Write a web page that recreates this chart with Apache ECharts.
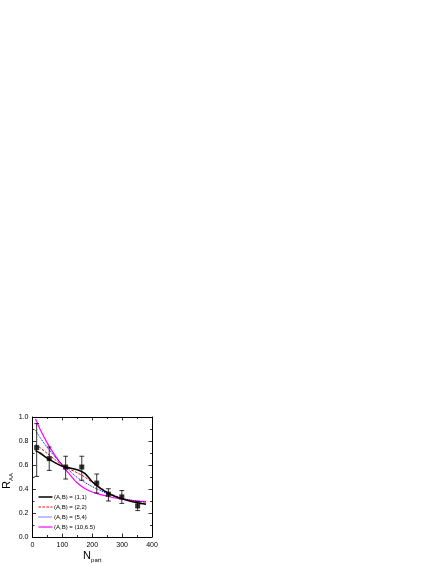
<!DOCTYPE html>
<html>
<head>
<meta charset="utf-8">
<script src="https://cdn.jsdelivr.net/npm/echarts@6/dist/echarts.min.js"></script>
<style>
html,body{margin:0;padding:0;background:#fff;}
#c{width:436px;height:564px;}
</style>
</head>
<body>
<div id="c"></div>
<script>
// Data points
var npart = [14, 56, 111, 165, 215, 254, 299, 352];
var raa = [0.745, 0.653, 0.583, 0.583, 0.449, 0.357, 0.334, 0.259];
var errUp = [0.20, 0.097, 0.09, 0.09, 0.076, 0.045, 0.053, 0.036];
var errDown = [0.24, 0.098, 0.10, 0.11, 0.083, 0.057, 0.054, 0.039];

// Model curves
var curveN = [10, 25, 50, 75, 100, 125, 150, 175, 200, 225, 250, 275, 300, 325, 350, 380];
var curve11 = [0.72, 0.70, 0.655, 0.62, 0.59, 0.575, 0.56, 0.53, 0.46, 0.41, 0.37, 0.34, 0.318, 0.30, 0.285, 0.272];
var curve22 = [0.77, 0.745, 0.695, 0.645, 0.60, 0.565, 0.535, 0.50, 0.455, 0.415, 0.375, 0.345, 0.322, 0.305, 0.293, 0.283];
var curve54 = [0.89, 0.83, 0.745, 0.67, 0.605, 0.55, 0.495, 0.455, 0.42, 0.39, 0.36, 0.34, 0.322, 0.31, 0.30, 0.292];
var curve1065 = [0.985, 0.90, 0.78, 0.68, 0.595, 0.52, 0.45, 0.405, 0.375, 0.355, 0.34, 0.325, 0.315, 0.305, 0.30, 0.298];

var names = ['(A,B) = (1,1)', '(A,B) = (2,2)', '(A,B) = (5,4)', '(A,B) = (10,6.5)'];
var xTicks = [0, 100, 200, 300, 400];
var yTicks = [0.0, 0.2, 0.4, 0.6, 0.8, 1.0];

function pairs(xs, ys){ return xs.map(function(x,i){ return [x, ys[i]]; }); }

var FONT = 'Liberation Sans, Arial, sans-serif';
var lineStyles = [
  {color:'#000000', width:1.5, type:'solid'},
  {color:'#ff0000', width:1, type:[2.5,1.5]},
  {color:'#0000ff', width:1, type:[1,1]},
  {color:'#ff00ff', width:1.2, type:'solid'}
];
var curves = [curve11, curve22, curve54, curve1065];

var chart = echarts.init(document.getElementById('c'), null, {renderer:'canvas'});

function xAx(pos, show){
  return {
    type:'value', position:pos, min:xTicks[0], max:xTicks[xTicks.length-1], interval:100,
    axisLine:{show:true, onZero:false, lineStyle:{color:'#000', width:1}},
    axisTick:{show:true, inside:true, length:3.5, lineStyle:{color:'#000', width:0.8}},
    minorTick:{show:true, splitNumber:2, length:2, lineStyle:{color:'#000', width:0.8}},
    splitLine:{show:false},
    axisLabel:{show:show, fontSize:7, color:'#000', fontFamily:FONT, margin:5},
    name: show ? '{n|N}{s|part}' : '',
    nameLocation:'middle', nameGap:11,
    nameTextStyle:{rich:{n:{fontSize:11, fontFamily:FONT, color:'#000'}, s:{fontSize:6, fontFamily:FONT, color:'#000', padding:[9,0,0,0]}}}
  };
}
function yAx(pos, show){
  return {
    type:'value', position:pos, min:yTicks[0], max:yTicks[yTicks.length-1], interval:0.2,
    axisLine:{show:true, onZero:false, lineStyle:{color:'#000', width:1}},
    axisTick:{show:true, inside:true, length:3.5, lineStyle:{color:'#000', width:0.8}},
    minorTick:{show:true, splitNumber:2, length:2, lineStyle:{color:'#000', width:0.8}},
    splitLine:{show:false},
    axisLabel:{show:show, fontSize:7, color:'#000', fontFamily:FONT, margin:4, formatter:function(v){return v.toFixed(1);}},
    name: show ? '{n|R}{s|AA}' : '',
    nameLocation:'middle', nameGap:18, nameRotate:90,
    nameTextStyle:{align:'center', padding:[0,0,0,-8], rich:{n:{fontSize:11, fontFamily:FONT, color:'#000'}, s:{fontSize:6, fontFamily:FONT, color:'#000', padding:[9,0,0,0]}}}
  };
}

// legend drawn as graphic elements (layout only)
var legendGraphics = [];
names.forEach(function(n, i){
  var y = 497 + i * 10;
  legendGraphics.push({type:'line', shape:{x1:38.5, y1:y, x2:52.5, y2:y},
    style:{stroke:lineStyles[i].color, lineWidth:lineStyles[i].width,
           lineDash: lineStyles[i].type === 'solid' ? null : lineStyles[i].type}});
  legendGraphics.push({type:'text', x:54, y:y, style:{text:n, fontSize:6, fontFamily:FONT, fill:'#000',
    textVerticalAlign:'middle', verticalAlign:'middle'}});
});

var series = curves.map(function(c, i){
  return {name:names[i], type:'line', data:pairs(curveN, c), smooth:0.3, symbol:'none', showSymbol:false,
    lineStyle:lineStyles[i], itemStyle:{color:lineStyles[i].color}, z:4 - i};
});
series.push({name:'err', type:'custom', z:5,
  data:npart.map(function(x,i){ return [x, raa[i]-errDown[i], raa[i]+errUp[i]]; }),
  renderItem:function(params, api){
    var x = api.value(0);
    var lo = api.coord([x, api.value(1)]);
    var hi = api.coord([x, api.value(2)]);
    var w = 2.4;
    var st = {stroke:'#000', lineWidth:0.8};
    return {type:'group', children:[
      {type:'line', shape:{x1:lo[0], y1:lo[1], x2:hi[0], y2:hi[1]}, style:st},
      {type:'line', shape:{x1:lo[0]-w, y1:lo[1], x2:lo[0]+w, y2:lo[1]}, style:st},
      {type:'line', shape:{x1:hi[0]-w, y1:hi[1], x2:hi[0]+w, y2:hi[1]}, style:st}
    ]};
  }});
series.push({name:'data', type:'scatter', data:pairs(npart, raa), symbol:'rect', symbolSize:5,
  itemStyle:{color:'#000'}, z:6});

var option = {
  animation:false,
  backgroundColor:'#fff',
  grid:{left:32.5, top:417, width:119.5, height:120, containLabel:false},
  xAxis:[xAx('bottom', true), xAx('top', false)],
  yAxis:[yAx('left', true), yAx('right', false)],
  graphic:legendGraphics,
  series:series
};
chart.setOption(option);
</script>
</body>
</html>
